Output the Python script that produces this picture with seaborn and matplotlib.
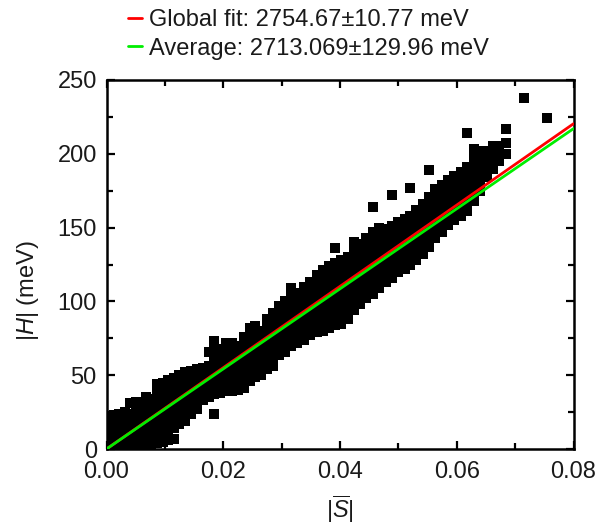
import numpy as np
import pandas as pd
import matplotlib
matplotlib.use("Agg")
import matplotlib.pyplot as plt
import seaborn as sns
from matplotlib.ticker import MultipleLocator

# ---- data -------------------------------------------------------------
# Each column: one |S| value and the |H| values (meV) measured at it.
S_COLS = [
    0.0003, 0.0012, 0.0022, 0.0031, 0.0040, 0.0050, 0.0059, 0.0068, 0.0077,
    0.0086, 0.0096, 0.0106, 0.0116, 0.0125, 0.0135, 0.0145, 0.0155, 0.0165,
    0.0175, 0.0185, 0.0195, 0.0205, 0.0215, 0.0225, 0.0235, 0.0245, 0.0255,
    0.0265, 0.0275, 0.0285, 0.0295, 0.0305, 0.0316, 0.0327, 0.0338, 0.0349,
    0.0360, 0.0371, 0.0382, 0.0392, 0.0402, 0.0413, 0.0424, 0.0435, 0.0445,
    0.0456, 0.0467, 0.0478, 0.0489, 0.0500, 0.0511, 0.0520, 0.0531, 0.0542,
    0.0552, 0.0563, 0.0574, 0.0585, 0.0596, 0.0607, 0.0618, 0.0629, 0.0640,
    0.0651, 0.0662, 0.0673, 0.0685,
]
H_COLS = [
    [0, 5, 11, 16, 22],
    [1, 7, 13, 18, 23],
    [0, 4, 10, 15, 20, 24],
    [2, 8, 14, 19, 25],
    [1, 6, 12, 18, 24, 31],
    [0, 5, 11, 17, 22, 27, 32],
    [2, 8, 14, 20, 26, 31],
    [0, 6, 12, 18, 24, 30, 35],
    [3, 9, 15, 21, 27, 34],
    [4, 10, 16, 22, 28, 33, 39, 44],
    [5, 11, 17, 23, 29, 35, 40, 45],
    [6, 12, 18, 24, 30, 36, 42, 47],
    [7, 14, 20, 26, 32, 38, 43, 48],
    [17, 23, 29, 35, 41, 47, 50],
    [19, 25, 31, 37, 43, 48, 52],
    [24, 30, 36, 42, 47, 53],
    [27, 33, 39, 45, 50, 54],
    [33, 39, 45, 50, 55],
    [35, 41, 47, 52, 56, 66],
    [24, 37, 43, 49, 55, 61, 67, 73],
    [38, 44, 50, 56, 62, 68],
    [39, 45, 51, 57, 63, 69, 72],
    [39, 45, 51, 56, 62, 67, 72],
    [40, 46, 52, 58, 64, 70],
    [41, 47, 53, 59, 65, 71, 76],
    [46, 52, 58, 64, 70, 76, 82],
    [49, 55, 61, 67, 73, 79, 83],
    [50, 56, 62, 68, 74, 80],
    [54, 60, 66, 72, 78, 84, 88],
    [56, 62, 68, 74, 80, 86, 92],
    [64, 70, 76, 82, 88, 93, 97],
    [66, 72, 78, 84, 90, 96, 100],
    [70, 76, 82, 88, 94, 100, 105, 109],
    [72, 78, 84, 90, 96, 101, 106],
    [74, 80, 86, 92, 98, 104, 110],
    [77, 83, 89, 95, 101, 107, 113],
    [79, 85, 91, 97, 103, 109, 115, 118],
    [80, 86, 92, 98, 104, 110, 116, 121],
    [82, 88, 94, 100, 106, 112, 118, 124],
    [84, 90, 96, 102, 108, 114, 120, 126, 136],
    [85, 91, 97, 103, 109, 115, 121, 128],
    [88, 94, 100, 106, 112, 118, 124, 130],
    [94, 100, 106, 112, 118, 124, 130, 135, 140],
    [98, 104, 110, 116, 122, 128, 134, 139],
    [102, 108, 114, 120, 126, 132, 138, 143],
    [105, 111, 117, 123, 129, 135, 141, 147, 164],
    [109, 115, 121, 127, 133, 139, 145, 150],
    [113, 119, 125, 131, 137, 143, 149],
    [116, 122, 128, 134, 140, 146, 151, 172],
    [120, 126, 132, 138, 144, 150, 154],
    [122, 128, 134, 140, 146, 152, 156],
    [125, 131, 137, 143, 149, 155, 158, 177],
    [128, 134, 140, 146, 152, 158, 162],
    [132, 138, 144, 150, 156, 162, 166],
    [137, 143, 149, 155, 161, 167, 171, 189],
    [143, 149, 155, 161, 167, 173, 176],
    [147, 153, 159, 165, 171, 177, 179],
    [152, 158, 164, 170, 176, 182],
    [155, 161, 167, 173, 179, 185],
    [158, 164, 170, 176, 182, 188],
    [161, 167, 173, 179, 185, 191, 214],
    [168, 174, 180, 186, 192, 198, 203],
    [175, 181, 187, 193, 199, 202],
    [184, 190, 196, 202],
    [190, 196, 202, 205],
    [195, 200, 205],
    [200, 207, 217],
]
# Isolated points at the high-|S| end
S_EXTRA = [0.0715, 0.0755]
H_EXTRA = [238, 224]

# Slopes (meV) of the two reference lines
GLOBAL_FIT = 2754.67
GLOBAL_ERR = 10.77
AVERAGE = 2713.069
AVERAGE_ERR = 129.96
LINE_S = np.array([0.0, 0.08])

X_TICKS = [0.00, 0.02, 0.04, 0.06, 0.08]
Y_TICKS = [0, 50, 100, 150, 200, 250]

# ---- tidy frame for seaborn --------------------------------------------
s_all, h_all = [], []
for s_val, h_list in zip(S_COLS, H_COLS):
    s_all.extend([s_val] * len(h_list))
    h_all.extend(h_list)
s_all.extend(S_EXTRA)
h_all.extend(H_EXTRA)
points = pd.DataFrame({"S": s_all, "H": h_all})

# ---- style -------------------------------------------------------------
sns.set_theme(style="ticks")
plt.rcParams["font.family"] = ["Liberation Sans", "DejaVu Sans"]
plt.rcParams["mathtext.fontset"] = "custom"
plt.rcParams["mathtext.rm"] = "Liberation Sans"
plt.rcParams["mathtext.it"] = "Liberation Sans:italic"
plt.rcParams["mathtext.bf"] = "Liberation Sans:bold"

fig = plt.figure(figsize=(5.97, 5.24), dpi=100)
ax = fig.add_axes([106.5 / 597, 75 / 524, 467 / 597, 369 / 524])

sns.scatterplot(data=points, x="S", y="H", marker="s", s=52, color="black",
                linewidth=0, ax=ax, zorder=2, legend=False)

sns.lineplot(x=LINE_S, y=GLOBAL_FIT * LINE_S, color="#ff0000", lw=2.0, ax=ax,
             zorder=3, label=f"Global fit: {GLOBAL_FIT}\u00b1{GLOBAL_ERR} meV")
sns.lineplot(x=LINE_S, y=AVERAGE * LINE_S, color="#00ee00", lw=2.0, ax=ax,
             zorder=4, label=f"Average: {AVERAGE}\u00b1{AVERAGE_ERR} meV")

ax.set_xlim(0, 0.08)
ax.set_ylim(0, 250)
ax.set_xticks(X_TICKS)
ax.set_yticks(Y_TICKS)
ax.set_xticklabels([f"{v:.2f}" for v in X_TICKS])
ax.set_yticklabels([str(v) for v in Y_TICKS])
ax.xaxis.set_minor_locator(MultipleLocator(0.01))
ax.yaxis.set_minor_locator(MultipleLocator(25))

for side in ax.spines.values():
    side.set_linewidth(1.8)
    side.set_color("black")
ax.tick_params(which="both", direction="in", top=True, right=True,
               colors="black", labelcolor="#1a1a1a", labelsize=17)
ax.tick_params(which="major", length=6, width=1.6)
ax.tick_params(axis="x", which="major", pad=9)
ax.tick_params(axis="y", which="major", pad=7)
ax.tick_params(which="minor", length=4, width=1.6)

ax.set_xlabel(r"$|\overline{S}|$", fontsize=17, color="#1a1a1a")
ax.xaxis.set_label_coords(0.5, -0.12)
ax.set_ylabel(r"$|H|$ (meV)", fontsize=17, color="#1a1a1a")
ax.yaxis.set_label_coords(-0.14, 0.43)

leg = ax.legend(loc="upper left", bbox_to_anchor=(128 / 597, 1 - 9 / 524),
                bbox_transform=fig.transFigure, frameon=False, fontsize=17,
                handlelength=0.6, handletextpad=0.3, labelspacing=0.28,
                borderpad=0, borderaxespad=0)
for txt in leg.get_texts():
    txt.set_color("#1a1a1a")

fig.savefig("out.png", dpi=100)
